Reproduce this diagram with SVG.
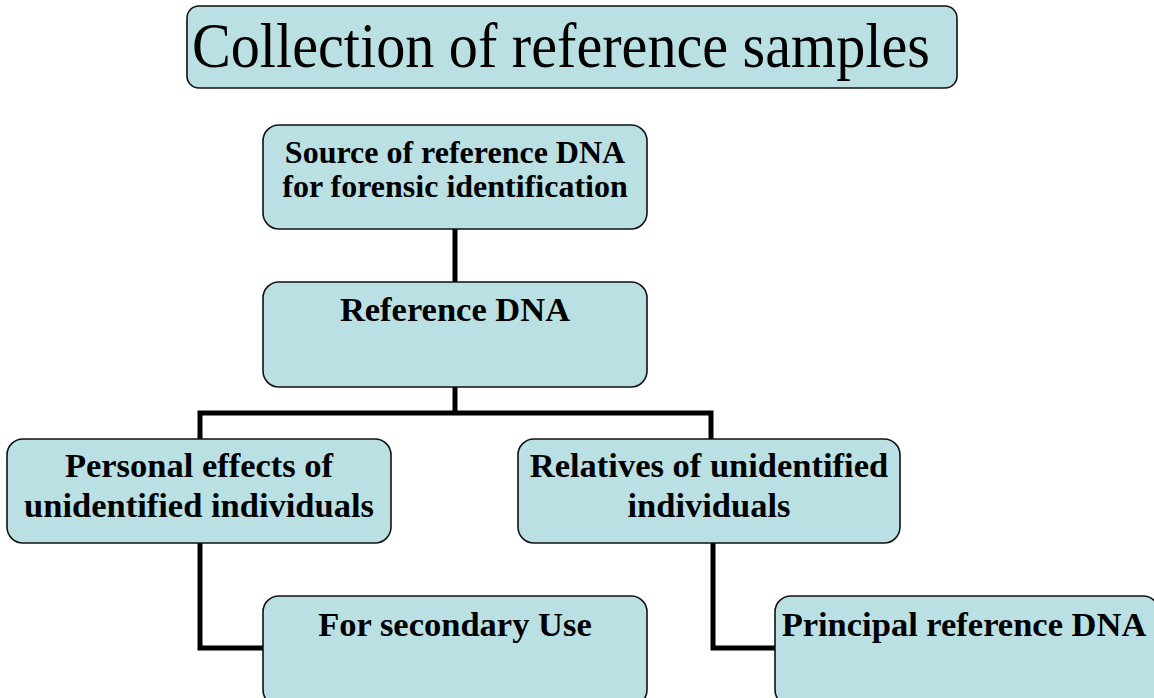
<svg xmlns="http://www.w3.org/2000/svg" width="1154" height="698" viewBox="0 0 1154 698">
<style>
.box{fill:#BBE0E3;stroke:#111;stroke-width:1.6}
.t{font-family:"Liberation Serif","Times New Roman",serif;font-weight:bold;font-size:34.5px;text-anchor:middle;fill:#000}
.s{font-size:32px}
.c{fill:none;stroke:#000;stroke-width:5}
</style>
<rect width="1154" height="698" fill="#fff"/>
<g id="title">
<rect class="box" x="187" y="6" width="770" height="82" rx="12"/>
<text x="192" y="67" font-family="Liberation Serif, Times New Roman, serif" font-size="64" textLength="738" lengthAdjust="spacingAndGlyphs">Collection of reference samples</text>
</g>
<g id="connectors">
<path class="c" d="M455 229V282"/>
<path class="c" d="M455 387V413M200 439V413H711V439"/>
<path class="c" d="M200 543V648H263"/>
<path class="c" d="M713 543V648H775"/>
</g>
<g id="source">
<rect class="box" x="263" y="125" width="384" height="104" rx="16"/>
<text class="t s" x="455" y="163">Source of reference DNA</text>
<text class="t s" x="455" y="197">for forensic identification</text>
</g>
<g id="refdna">
<rect class="box" x="263" y="282" width="384" height="105" rx="16"/>
<text class="t" x="455" y="321">Reference DNA</text>
</g>
<g id="personal">
<rect class="box" x="7" y="439" width="384" height="104" rx="16"/>
<text class="t" x="199" y="477">Personal effects of</text>
<text class="t" x="199" y="517">unidentified individuals</text>
</g>
<g id="relatives">
<rect class="box" x="518" y="439" width="382" height="104" rx="16"/>
<text class="t" x="709" y="477">Relatives of unidentified</text>
<text class="t" x="709" y="517">individuals</text>
</g>
<g id="secondary">
<rect class="box" x="263" y="596" width="384" height="110" rx="16"/>
<text class="t" x="455" y="636">For secondary Use</text>
</g>
<g id="principal">
<rect class="box" x="775" y="596" width="384" height="110" rx="16"/>
<text class="t" x="964" y="636">Principal reference DNA</text>
</g>
</svg>
